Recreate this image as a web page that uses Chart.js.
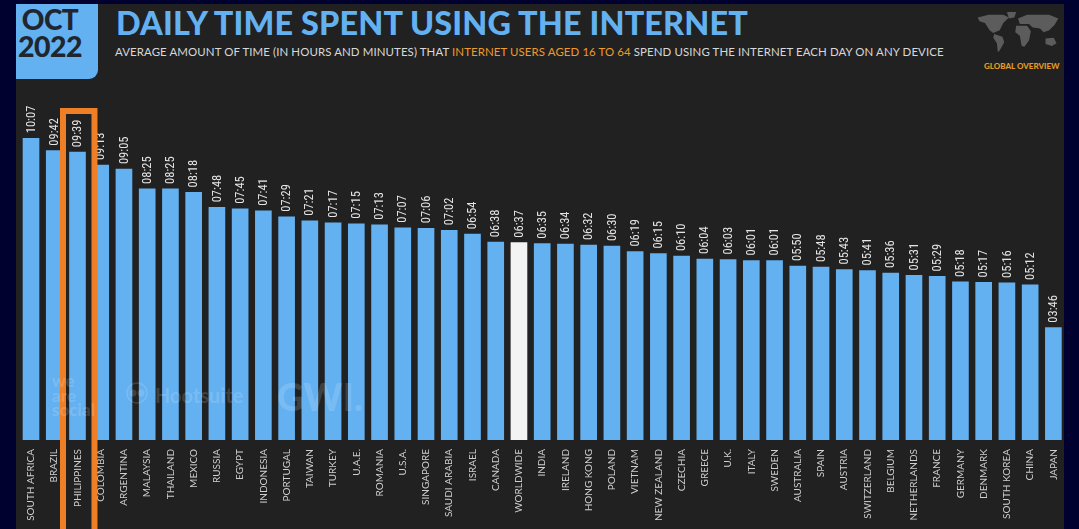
<!DOCTYPE html>
<html><head><meta charset="utf-8">
<script src="https://cdn.jsdelivr.net/npm/chart.js@4"></script>
<style>
html,body{margin:0;padding:0;background:#00012e;width:1079px;height:529px;overflow:hidden}
#panel{position:absolute;left:16px;top:4px;width:1048px;height:525px;background:#212121}
canvas{position:absolute;left:0;top:0}
.t{position:absolute;white-space:nowrap;font-family:Lato,sans-serif}
#datebox{position:absolute;left:16px;top:4px;width:82px;height:75px;background:#64b1f1;border-bottom-right-radius:9px}
#oct{left:16px;width:68px;text-align:center;top:4px;font-size:28px;line-height:30px;font-weight:900;color:#1f2630;letter-spacing:-.5px}
#yr{left:16px;width:68px;text-align:center;top:31px;font-size:28.5px;line-height:30px;font-weight:900;color:#1f2630;letter-spacing:-.5px}
#title{left:116px;top:3px;font-size:32.4px;line-height:40px;font-weight:900;color:#64b1f1;letter-spacing:.15px}
#sub{left:115px;top:44px;font-size:11.45px;line-height:16px;color:#d8d8d8;letter-spacing:.1px}
#sub b{font-weight:400;color:#ee9a2c}
#go{left:984px;top:61px;font-size:8px;line-height:10px;font-weight:900;color:#e19b24}
#map{position:absolute;left:972px;top:12px}
.wm{color:rgba(255,255,255,.14);font-weight:900}
</style></head><body>
<div id="panel"></div>
<div id="datebox"></div>
<div class="t" id="oct">OCT</div><div class="t" id="yr">2022</div>
<div class="t" id="title">DAILY TIME SPENT USING THE INTERNET</div>
<div class="t" id="sub">AVERAGE AMOUNT OF TIME (IN HOURS AND MINUTES) THAT <b>INTERNET USERS AGED 16 TO 64</b> SPEND USING THE INTERNET EACH DAY ON ANY DEVICE</div>
<svg id="map" width="92" height="44" viewBox="0 0 92 48"><g fill="#5c5c5c">
<path d="M2 6 L14 3 L30 3 L36 6 L30 12 L26 20 L19 23 L15 20 L10 12 L4 10Z"/>
<path d="M34 0 L44 0 L42 6 L36 7Z"/>
<path d="M20 24 L29 27 L31 33 L26 42 L24 44 L23 34 L19 28Z"/>
<path d="M46 7 L56 3 L80 3 L90 7 L86 14 L80 20 L74 22 L70 18 L62 17 L58 13 L48 13Z"/>
<path d="M44 15 L56 15 L60 21 L58 31 L53 38 L50 37 L48 26 L43 22Z"/>
<path d="M76 29 L85 28 L88 34 L83 37 L76 35Z"/>
</g></svg>
<div class="t" id="go">GLOBAL OVERVIEW</div>
<canvas id="c" width="1079" height="529"></canvas>
<div class="t wm" style="left:52px;top:374px;font-size:17px;line-height:14.5px">we<br>are<br>social</div>
<svg style="position:absolute;left:125px;top:381px" width="24" height="24"><circle cx="12" cy="12" r="10" fill="none" stroke="rgba(255,255,255,.14)" stroke-width="1.5"/><circle cx="8" cy="12" r="3.5" fill="rgba(255,255,255,.14)"/><circle cx="16" cy="12" r="3.5" fill="rgba(255,255,255,.14)"/></svg>
<div class="t wm" style="left:155px;top:380px;font-size:20px;line-height:30px;font-weight:700">Hootsuite</div>
<div class="t wm" style="left:277px;top:375px;font-size:37px;line-height:44px">GWI.</div>
<script>
const countries=['SOUTH AFRICA','BRAZIL','PHILIPPINES','COLOMBIA','ARGENTINA','MALAYSIA','THAILAND','MEXICO','RUSSIA','EGYPT','INDONESIA','PORTUGAL','TAIWAN','TURKEY','U.A.E.','ROMANIA','U.S.A.','SINGAPORE','SAUDI ARABIA','ISRAEL','CANADA','WORLDWIDE','INDIA','IRELAND','HONG KONG','POLAND','VIETNAM','NEW ZEALAND','CZECHIA','GREECE','U.K.','ITALY','SWEDEN','AUSTRALIA','SPAIN','AUSTRIA','SWITZERLAND','BELGIUM','NETHERLANDS','FRANCE','GERMANY','DENMARK','SOUTH KOREA','CHINA','JAPAN'];
const minutes=[607,582,579,553,545,505,505,498,468,465,461,449,441,437,435,433,427,426,422,414,398,397,395,394,392,390,379,375,370,364,363,361,361,350,348,343,341,336,331,329,318,317,316,312,226];
const highlightCategory='PHILIPPINES';
const whiteCategory='WORLDWIDE';
const fmt=m=>String(Math.floor(m/60)).padStart(2,'0')+':'+String(m%60).padStart(2,'0');
const overlay={id:'overlay',
 afterDatasetsDraw(ch){
  const ctx=ch.ctx,bars=ch.getDatasetMeta(0).data;
  ctx.save();
  ctx.fillStyle='#e4e4e4';ctx.textAlign='left';ctx.textBaseline='middle';
  ctx.font='12.5px "Liberation Sans Narrow","Roboto Condensed",sans-serif';
  bars.forEach((b,i)=>{ctx.save();ctx.translate(b.x+0.5,b.y-5);ctx.rotate(-Math.PI/2);ctx.fillText(fmt(minutes[i]),0,0);ctx.restore();});
  ctx.restore();
 },
 afterDraw(ch){
  const ctx=ch.ctx,x=ch.scales.x.getPixelForValue(countries.indexOf(highlightCategory));
  ctx.save();ctx.strokeStyle='#ef7f27';ctx.lineWidth=6;
  ctx.beginPath();ctx.moveTo(x-14.5,540);ctx.lineTo(x-14.5,111);ctx.lineTo(x+17,111);ctx.lineTo(x+17,540);ctx.stroke();
  ctx.restore();
 }};
new Chart(document.getElementById('c'),{type:'bar',
 data:{labels:countries,datasets:[{data:minutes,
  backgroundColor:countries.map(c=>c===whiteCategory?'#f3f3f3':'#64b1f1'),
  barThickness:16,borderWidth:0}]},
 options:{responsive:false,animation:false,devicePixelRatio:1,
  layout:{padding:{left:19.4,right:14,top:92,bottom:0}},
  plugins:{legend:{display:false},tooltip:{enabled:false},title:{display:false}},
  scales:{
   y:{display:false,min:0,max:700},
   x:{afterFit(s){s.height=89},grid:{display:false},border:{display:false},
    ticks:{autoSkip:false,minRotation:90,maxRotation:90,padding:1,color:'#cfcfcf',font:{family:'Lato',size:10}}}
  }},
 plugins:[overlay]});
</script>
</body></html>
